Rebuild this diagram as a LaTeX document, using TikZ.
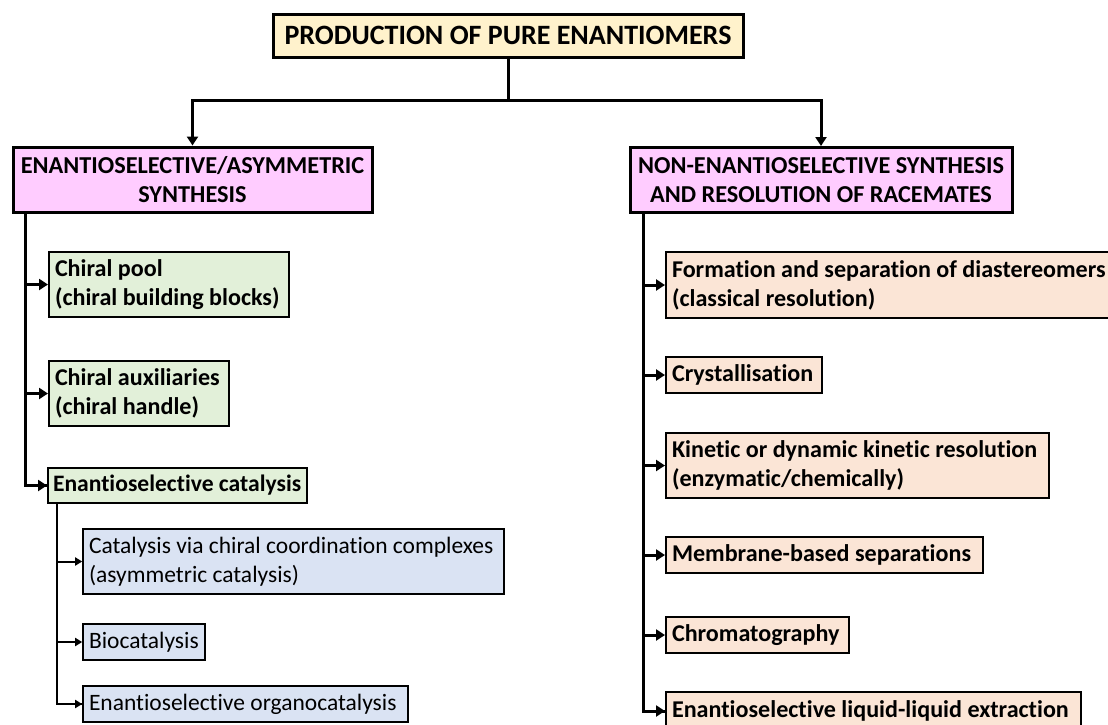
\documentclass[tikz,border=0pt]{standalone}
\usepackage{fontspec}
\setmainfont{Carlito}[Ligatures=NoCommon]
\usetikzlibrary{arrows.meta}
\definecolor{cream}{HTML}{FFF2CC}
\definecolor{pinkfill}{HTML}{FFCCFF}
\definecolor{greenfill}{HTML}{E2F0D9}
\definecolor{bluefill}{HTML}{DAE3F3}
\definecolor{peachfill}{HTML}{FBE5D6}
\newcommand{\boxfont}{\fontsize{23.5}{29}\selectfont}
\newcommand{\boldboxfont}{\bfseries\fontsize{24.1}{29}\selectfont}
\tikzset{
  box/.style 2 args={draw=black, minimum width=#1, minimum height=#2,
    inner xsep=6pt, inner ysep=0pt, align=flush left, font=\boxfont},
  topbox/.style={box={470pt}{43pt}, fill=cream, line width=3pt, align=center,
    font=\bfseries\fontsize{28}{32}\selectfont},
  mainbox/.style={box={#1}{65pt}, fill=pinkfill, line width=3pt, align=center,
    font=\bfseries\fontsize{24.3}{29}\selectfont},
  greenbox/.style 2 args={box={#1}{#2}, fill=greenfill, line width=2pt, text width=#1-12pt, font=\boldboxfont},
  bluebox/.style 2 args={box={#1}{#2}, fill=bluefill, line width=1.6pt, text width=#1-12pt},
  peachbox/.style 2 args={box={#1}{#2}, fill=peachfill, line width=2pt, text width=#1-12pt, font=\boldboxfont},
  conn/.style={line width=3pt, -{Triangle[length=9pt,width=11pt]}},
  link/.style={line width=3pt},
  thinconn/.style={line width=2pt, -{Triangle[length=7pt,width=8pt]}},
  thinlink/.style={line width=2pt},
}
\begin{document}
\begin{tikzpicture}[x=1pt, y=-1pt]
\useasboundingbox (0,0) rectangle (1108,724);

% headings
\node[topbox] (top) at (508,35.5) {PRODUCTION OF PURE ENANTIOMERS};
\node[mainbox=359pt] (L) at (192.5,179.5) {ENANTIOSELECTIVE/ASYMMETRIC\\SYNTHESIS};
\node[mainbox=382pt] (R) at (821,180) {NON-ENANTIOSELECTIVE SYNTHESIS\\AND RESOLUTION OF RACEMATES};

% left branch
\node[greenbox={240pt}{65pt}] (cp) at (169,284.5) {Chiral pool\\(chiral building blocks)};
\node[greenbox={180pt}{65pt}] (aux) at (139,393.5) {Chiral auxiliaries\\(chiral handle)};
\node[greenbox={259pt}{35pt}, inner xsep=5pt, text width=249pt,
      font=\bfseries\fontsize{23.6}{29}\selectfont] (ec) at (177.5,485.5)
      {\mbox{Enantioselective catalysis}};
\node[bluebox={421pt}{65pt}] (cat) at (293.5,561.5) {Catalysis via chiral coordination complexes\\(asymmetric catalysis)};
\node[bluebox={122pt}{36pt}] (bio) at (144,642) {Biocatalysis};
\node[bluebox={325pt}{36pt}] (org) at (245.5,704) {Enantioselective organocatalysis};

% right branch
\node[peachbox={450pt}{66pt}] (form) at (891,285) {Formation and separation of diastereomers\\(classical resolution)};
\node[peachbox={156pt}{36pt}] (cry) at (744,375) {Crystallisation};
\node[peachbox={383pt}{65pt}] (kin) at (857.5,465.5) {Kinetic or dynamic kinetic resolution\\(enzymatic/chemically)};
\node[peachbox={317pt}{36pt}] (mem) at (824.5,555) {Membrane-based separations};
\node[peachbox={183pt}{36pt}] (chr) at (757.5,635) {Chromatography};
\node[peachbox={415pt}{38pt}] (lle) at (873.5,711) {Enantioselective liquid-liquid extraction};

% trunk positions
\coordinate (split) at (508,100);
\coordinate (lx) at (25,0);
\coordinate (rx) at (643,0);
\coordinate (sx) at (57,0);

% top split
\draw[link] (top.south) -- (split);
\draw[conn] (split) -| (L.north);
\draw[conn] (split) -| (R.north);

% left trunk
\draw[link] (L.south -| lx) |- (ec.west);
\draw[conn] (cp.west -| lx) -- (cp.west);
\draw[conn] (aux.west -| lx) -- (aux.west);
\draw[conn] (ec.west -| lx) -- (ec.west);

% catalysis sub-trunk
\draw[thinlink] (ec.south -| sx) |- (org.west);
\draw[thinconn] (cat.west -| sx) -- (cat.west);
\draw[thinconn] (bio.west -| sx) -- (bio.west);
\draw[thinconn] (org.west -| sx) -- (org.west);

% right trunk
\draw[link] (R.south -| rx) |- (lle.west);
\draw[conn] (form.west -| rx) -- (form.west);
\draw[conn] (cry.west -| rx) -- (cry.west);
\draw[conn] (kin.west -| rx) -- (kin.west);
\draw[conn] (mem.west -| rx) -- (mem.west);
\draw[conn] (chr.west -| rx) -- (chr.west);
\draw[conn] (lle.west -| rx) -- (lle.west);
\end{tikzpicture}
\end{document}
